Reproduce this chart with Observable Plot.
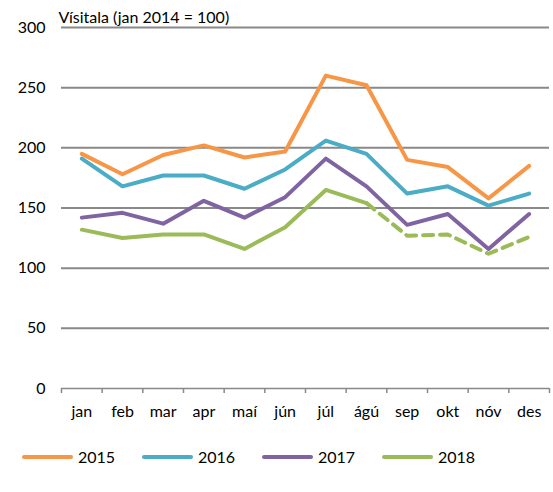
<!DOCTYPE html>
<html>
<head>
<meta charset="utf-8">
<script src="https://cdn.jsdelivr.net/npm/d3@7"></script>
<script src="https://cdn.jsdelivr.net/npm/@observablehq/plot@0.6"></script>
<style>
  body { margin: 0; background: #fff; font-family: Lato, "Open Sans", sans-serif; }
  #legend { display: flex; padding-left: 22px; margin-top: 17px; font-size: 16px; color: #000; }
  .item { width: 120px; display: flex; align-items: center; }
  .sw { width: 51px; height: 4px; border-radius: 2px; margin-right: 5px; }
</style>
</head>
<body>
<div id="chart"></div>
<div id="legend"></div>
<script>
const months = ["jan","feb","mar","apr","maí","jún","júl","ágú","sep","okt","nóv","des"];
const years = ["2015","2016","2017","2018"];
const colors = ["#F79646","#4BACC6","#8064A2","#9BBB59"];
const v2015 = [195,178,194,202,192,197,260,252,190,184,158,185];
const v2016 = [191,168,177,177,166,182,206,195,162,168,152,162];
const v2017 = [142,146,137,156,142,159,191,168,136,145,116,145];
const v2018 = [132,125,128,128,116,134,165,154,127,128,112,126];
const yTicks = [0,50,100,150,200,250,300];
const title = "Vísitala (jan 2014 = 100)";
const lastActual2018 = 7; // ágú: dashed afterwards

const series = [v2015, v2016, v2017, v2018];
const rows = [];
series.forEach((vals, s) => vals.forEach((v, i) => rows.push({year: years[s], i, month: months[i], value: v})));
const solid = rows.filter(d => d.year !== "2018" || d.i <= lastActual2018);
const dashed = rows.filter(d => d.year === "2018" && d.i >= lastActual2018);

const chart = Plot.plot({
  width: 553, height: 430,
  marginTop: 27, marginLeft: 61, marginRight: 4, marginBottom: 42,
  style: {fontFamily: "Lato, 'Open Sans', sans-serif", fontSize: "16px", color: "#000", background: "#fff"},
  x: {domain: [0, 12], axis: null},
  y: {domain: [0, 300], axis: null},
  color: {domain: years, range: colors},
  marks: [
    Plot.ruleY(yTicks.filter(d => d > 0), {stroke: "#898989", strokeWidth: 2}),
    Plot.ruleY([0], {stroke: "#898989", strokeWidth: 1.5}),
    Plot.axisX(d3.range(13), {tickSize: 5, tickFormat: () => "", stroke: "#898989", strokeWidth: 1.5, label: null}),
    Plot.axisX(months.map((m, i) => i + 0.5), {tickSize: 0, tickPadding: 17, tickFormat: d => months[Math.floor(d)], fontSize: 16, label: null}),
    Plot.axisY(yTicks, {tickSize: 0, tickPadding: 16, fontSize: 16, label: null}),
    Plot.line(solid, {x: d => d.i + 0.5, y: "value", z: "year", stroke: "year", strokeWidth: 4, strokeLinejoin: "round"}),
    Plot.line(dashed, {x: d => d.i + 0.5, y: "value", stroke: "year", strokeWidth: 4, strokeDasharray: "10,7"}),
    Plot.text([title], {frameAnchor: "top-left", dx: -3, dy: -16, textAnchor: "start", fontSize: 16})
  ]
});
document.getElementById("chart").appendChild(chart);

const legend = document.getElementById("legend");
years.forEach((y, k) => {
  const it = document.createElement("div");
  it.className = "item";
  it.innerHTML = `<div class="sw" style="background:${colors[k]}"></div><span>${y}</span>`;
  legend.appendChild(it);
});
</script>
</body>
</html>
